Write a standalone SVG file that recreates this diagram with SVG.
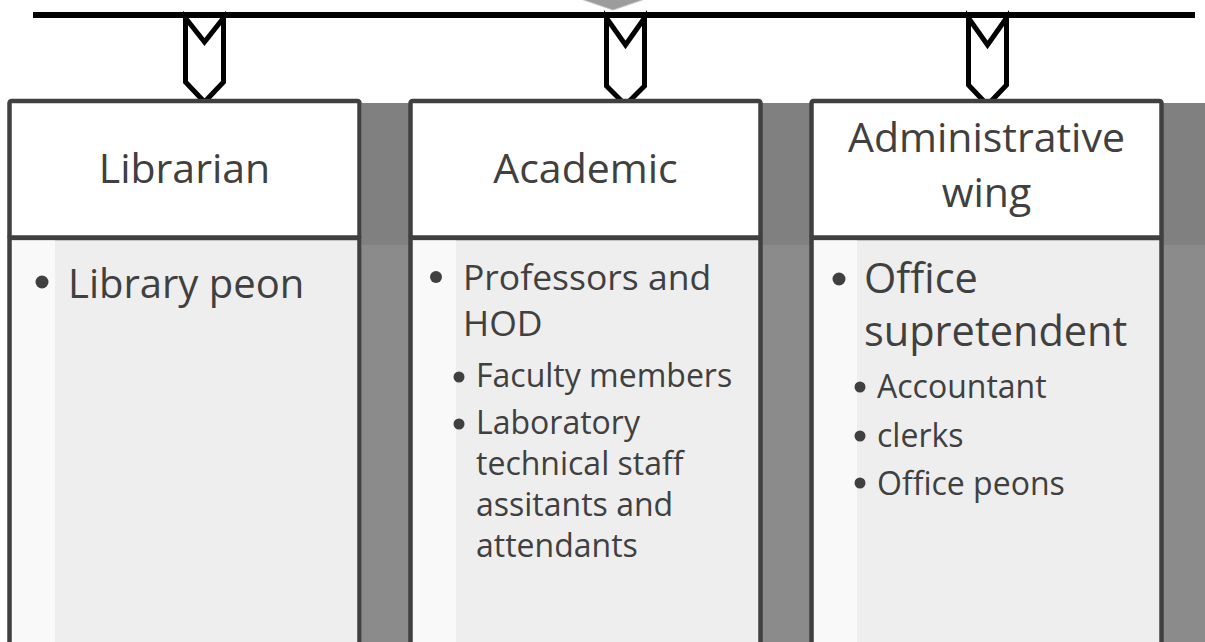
<svg xmlns="http://www.w3.org/2000/svg" width="1205" height="642" viewBox="0 0 1205 642">
<style>
.hdr{fill:#ffffff;stroke:#404040;stroke-width:4.5}
.body{fill:#eeeeee;stroke:#404040;stroke-width:4.5}
.strip{fill:#f9f9f9}
.t{font-family:"Open Sans","Noto Sans",sans-serif;fill:#404040}
.h{font-size:41px;text-anchor:middle}
.sub{font-size:32px}
.dot{fill:#404040}
.chev{fill:#ffffff;stroke:#000000;stroke-width:5;stroke-linejoin:miter}
</style>
<rect x="0" y="0" width="1205" height="642" fill="#ffffff"/>
<g id="background">
<rect x="362" y="103" width="843" height="142" fill="#808080"/>
<rect x="362" y="245" width="843" height="397" fill="#8b8b8b"/>
<polygon points="578,-2 648,-2 613,10" fill="#9c9c9c" stroke="#c0c0c0" stroke-width="1"/>
</g>
<g id="connectors">
<line x1="33" y1="15" x2="1195" y2="15" stroke="#000000" stroke-width="6"/>
<polygon class="chev" points="185.5,18 204.5,42 223.5,18 223.5,82 204.5,102 185.5,82"/>
<polygon class="chev" points="606.5,18 625.5,45 644.5,18 644.5,86 625.5,105 606.5,86"/>
<polygon class="chev" points="968.5,18 987.5,45 1006.5,18 1006.5,85 987.5,105 968.5,85"/>
</g>
<g id="node-librarian">
<rect class="body" x="9.5" y="238" width="350" height="430"/>
<rect class="strip" x="12" y="240.5" width="43" height="410"/>
<rect class="hdr" x="9.5" y="101" width="350" height="136.5" rx="2"/>
<text class="t h" x="184.5" y="183" font-size="40">Librarian</text>
<circle class="dot" cx="42" cy="282" r="6.5"/>
<text class="t" x="68" y="298" font-size="40">Library peon</text>
</g>
<g id="node-academic">
<rect class="body" x="410.5" y="238" width="350" height="430"/>
<rect class="strip" x="413" y="240.5" width="43" height="410"/>
<rect class="hdr" x="410.5" y="101" width="350" height="136.5" rx="2"/>
<text class="t h" x="585.5" y="183" font-size="42">Academic</text>
<circle class="dot" cx="436" cy="277" r="6"/>
<text class="t" x="463" y="290" font-size="35.5">Professors and</text>
<text class="t" x="463" y="336" font-size="35.5">HOD</text>
<circle class="dot" cx="459" cy="377" r="5.5"/>
<text class="t sub" x="476" y="387">Faculty members</text>
<circle class="dot" cx="459" cy="424" r="5.5"/>
<text class="t sub" x="476" y="434">Laboratory</text>
<text class="t sub" x="476" y="475">technical staff</text>
<text class="t sub" x="476" y="516">assitants and</text>
<text class="t sub" x="476" y="557">attendants</text>
</g>
<g id="node-administrative">
<rect class="body" x="811.5" y="238" width="350" height="430"/>
<rect class="strip" x="814" y="240.5" width="43" height="410"/>
<rect class="hdr" x="811.5" y="101" width="350" height="136.5" rx="2"/>
<text class="t h" x="986.5" y="152" font-size="42">Administrative</text>
<text class="t h" x="986.5" y="207" font-size="42">wing</text>
<circle class="dot" cx="839" cy="279" r="6.5"/>
<text class="t" x="864" y="293" font-size="41.5">Office</text>
<text class="t" x="864" y="346" font-size="41.5">supretendent</text>
<circle class="dot" cx="860" cy="387" r="5.5"/>
<text class="t sub" x="877" y="398">Accountant</text>
<circle class="dot" cx="860" cy="436" r="5.5"/>
<text class="t sub" x="877" y="447">clerks</text>
<circle class="dot" cx="860" cy="483" r="5.5"/>
<text class="t sub" x="877" y="495">Office peons</text>
</g>
</svg>
